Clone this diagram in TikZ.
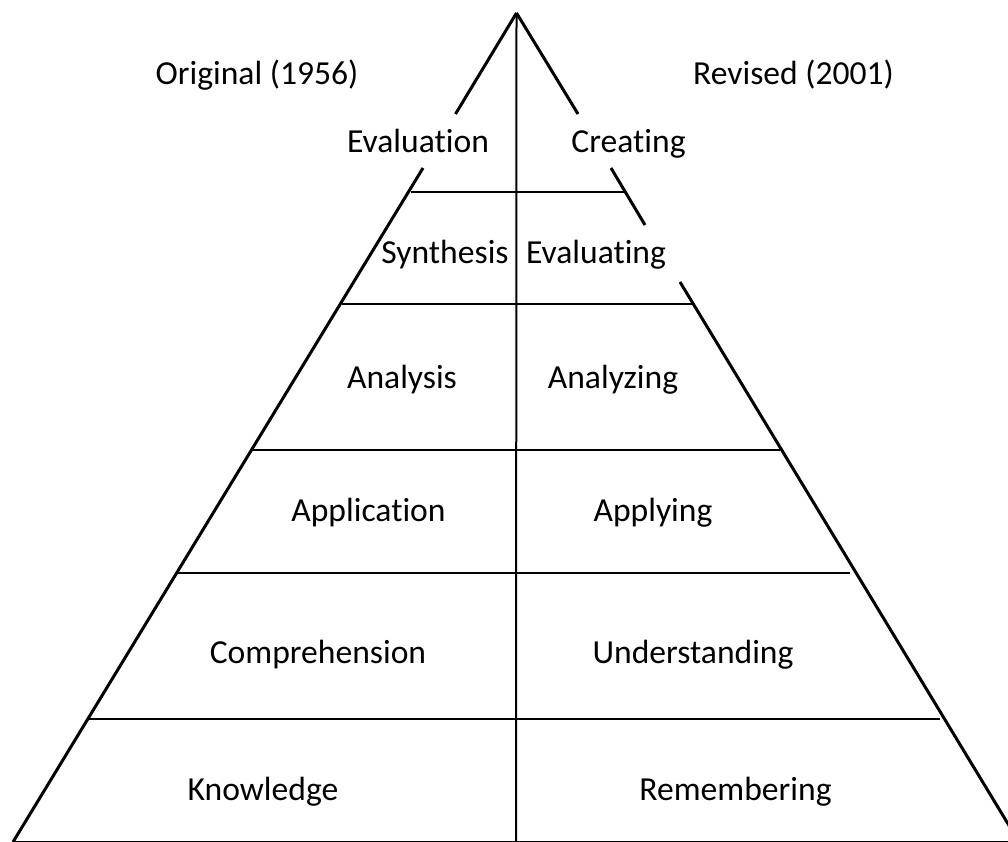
\documentclass[tikz,border=0pt]{standalone}
\usepackage{fontspec}
\setmainfont{Carlito}[Ligatures={NoCommon}]
\usetikzlibrary{calc}
\begin{document}
\begin{tikzpicture}[x=1pt,y=-1pt,
  side/.style={line width=3pt},
  rule/.style={line width=2pt},
  lbl/.style={anchor=base,inner sep=0pt,font=\fontsize{33.6}{40}\selectfont}]
\useasboundingbox (0,0) rectangle (1008,842);
\clip (0,0) rectangle (1008,842);
\fill[white] (0,0) rectangle (1008,842);

% apex and base corners
\coordinate (A)  at (516.5,13);
\coordinate (BL) at (13,842);
\coordinate (BR) at (1019,842);

% left side, broken where "Evaluation" sits
\draw[side] (A) -- (455.5,114);
\draw[side] (423,168) -- (BL);
% right side, broken at "Creating" and "Evaluating"
\draw[side] (A) -- (578,114);
\draw[side] (611,168) -- (645,225);
\draw[side] (680,282) -- (BR);
% base
\draw[side] (BL) -- (BR);

% centre divider
\draw[rule] (A) -- (516,842);

% level separators
\draw[rule] (411,192) -- (624,192);
\draw[rule] (342,304) -- (692,304);
\draw[rule] (253,450) -- (780,450);
\draw[rule] (177,573) -- (850,573);
\draw[rule] (88,719) -- (940,719);

% headings
\node[lbl] (orig) at (257,85) {Original (1956)};
\node[lbl] (rev)  at (793.5,85) {Revised (2001)};

% original taxonomy
\node[lbl] (o6) at (418,153) {Evaluation};
\node[lbl] (o5) at (445,263) {Synthesis};
\node[lbl] (o4) at (402,388) {Analysis};
\node[lbl] (o3) at (368.5,521) {Application};
\node[lbl] (o2) at (318,663) {Comprehension};
\node[lbl] (o1) at (263,800) {Knowledge};

% revised taxonomy
\node[lbl] (r6) at (628.5,153) {Creating};
\node[lbl] (r5) at (596,263) {Evaluating};
\node[lbl] (r4) at (613,388) {Analyzing};
\node[lbl] (r3) at (653,521) {Applying};
\node[lbl] (r2) at (693,663) {Understanding};
\node[lbl] (r1) at (735.5,800) {Remembering};
\end{tikzpicture}
\end{document}
